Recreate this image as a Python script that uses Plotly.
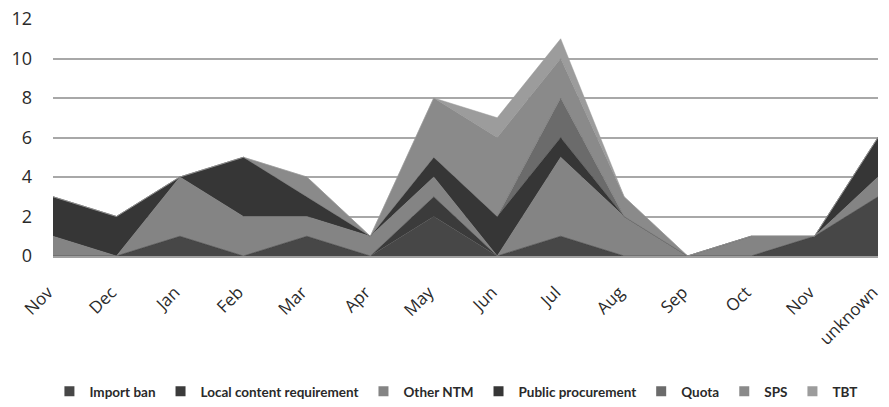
import plotly.graph_objects as go

months = ["Nov", "Dec", "Jan", "Feb", "Mar", "Apr", "May", "Jun", "Jul", "Aug", "Sep", "Oct", "Nov", "unknown"]

import_ban = [0, 0, 1, 0, 1, 0, 2, 0, 1, 0, 0, 0, 1, 3]
local_content = [0, 0, 0, 0, 0, 0, 1, 0, 0, 0, 0, 0, 0, 0]
other_ntm = [1, 0, 3, 2, 1, 1, 1, 0, 4, 2, 0, 1, 0, 1]
public_procurement = [2, 2, 0, 3, 1, 0, 1, 2, 1, 0, 0, 0, 0, 2]
quota = [0, 0, 0, 0, 0, 0, 0, 0, 2, 0, 0, 0, 0, 0]
sps = [0, 0, 0, 0, 1, 0, 3, 4, 2, 1, 0, 0, 0, 0]
tbt = [0, 0, 0, 0, 0, 0, 0, 1, 1, 0, 0, 0, 0, 0]

series = [
    ("Import ban", import_ban, "#474747"),
    ("Local content requirement", local_content, "#3b3b3b"),
    ("Other NTM", other_ntm, "#848484"),
    ("Public procurement", public_procurement, "#363636"),
    ("Quota", quota, "#6b6b6b"),
    ("SPS", sps, "#8a8a8a"),
    ("TBT", tbt, "#9c9c9c"),
]

x = list(range(len(months)))

fig = go.Figure()
for name, vals, col in series:
    fig.add_trace(go.Scatter(
        x=x, y=vals, name=name, mode="lines",
        stackgroup="one", fillcolor=col,
        line=dict(color=col, width=0.5),
        legendgroup=name, showlegend=False,
    ))
# legend entries with square swatches
for name, vals, col in series:
    fig.add_trace(go.Scatter(
        x=[None], y=[None], name=name, mode="markers",
        marker=dict(symbol="square", size=10, color=col),
        legendgroup=name, showlegend=True,
    ))

fig.update_layout(
    width=889, height=407,
    margin=dict(l=53, r=6, t=19, b=151),
    paper_bgcolor="white", plot_bgcolor="white",
    font=dict(family="Open Sans, sans-serif", color="#2a2a2a"),
    showlegend=True,
    legend=dict(
        orientation="h", x=0.489, xanchor="center",
        yref="container", y=0, yanchor="bottom",
        font=dict(family="Lato, sans-serif", size=13.5, color="#2a2a2a", weight="bold"),
        traceorder="normal", itemwidth=30,
    ),
    xaxis=dict(
        tickmode="array", tickvals=x, ticktext=months,
        range=[0, len(months) - 1], tickangle=-45,
        showgrid=False, zeroline=False,
        showline=True, linecolor="#a0a0a0", linewidth=1.5,
        ticks="", tickfont=dict(size=17, color="#2a2a2a"),
        ticklabelstandoff=18, ticklabelshift=-5, ticklabeloverflow="allow",
    ),
    yaxis=dict(
        range=[0, 12], tickvals=[0, 2, 4, 6, 8, 10, 12],
        showgrid=True, gridcolor="#a8a8a8", gridwidth=1.5,
        zeroline=False, showline=False, ticks="",
        tickfont=dict(size=18, color="#2a2a2a"),
        ticklabelstandoff=20,
    ),
)

fig.write_html("out.html", config={"displayModeBar": False},
               post_script="document.body.style.margin='0';")
